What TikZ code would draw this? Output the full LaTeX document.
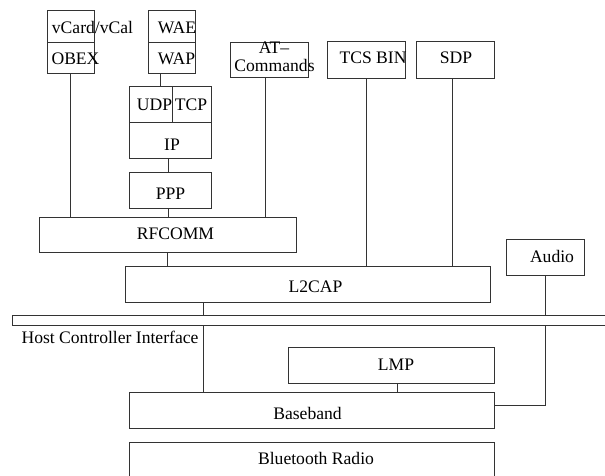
\documentclass[tikz,border=0pt]{standalone}
\usepackage{fontspec}
\setmainfont{Liberation Serif}
\begin{document}
\begin{tikzpicture}[x=1pt,y=-1pt,
  box/.style={draw=black!80, line width=0.9pt, inner sep=0pt},
  conn/.style={draw=black!80, line width=0.9pt},
  lbl/.style={anchor=base, inner sep=0pt, font=\fontsize{17.6}{18}\selectfont}]
\useasboundingbox (0,0) rectangle (605,476);
\clip (0,0) rectangle (605,476);
% boxes
\node[box,minimum width=47pt,minimum height=32pt] (vcard) at (70.5,26) {};
\node[box,minimum width=47pt,minimum height=31pt] (obex) at (70.5,57.5) {};
\node[box,minimum width=47pt,minimum height=32pt] (wae) at (171.5,26) {};
\node[box,minimum width=47pt,minimum height=31pt] (wap) at (171.5,57.5) {};
\node[box,minimum width=43pt,minimum height=36pt] (udp) at (150.5,104) {};
\node[box,minimum width=39pt,minimum height=36pt] (tcp) at (191.5,104) {};
\node[box,minimum width=82pt,minimum height=36pt] (ip) at (170,140) {};
\node[box,minimum width=78pt,minimum height=35pt] (at) at (269,59.5) {};
\node[box,minimum width=78pt,minimum height=37pt] (tcs) at (366,59.5) {};
\node[box,minimum width=78pt,minimum height=37pt] (sdp) at (455,59.5) {};
\node[box,minimum width=82pt,minimum height=36pt] (ppp) at (170,190) {};
\node[box,minimum width=257pt,minimum height=35pt] (rfcomm) at (167.5,234.5) {};
\node[box,minimum width=365pt,minimum height=36pt] (l2cap) at (307.5,284) {};
\node[box,minimum width=78pt,minimum height=36pt] (audio) at (545,257) {};
\node[box,minimum width=598pt,minimum height=10pt] (hci) at (311,320) {};
\node[box,minimum width=206pt,minimum height=36pt] (lmp) at (391,365) {};
\node[box,minimum width=365pt,minimum height=36pt] (baseband) at (311.5,410) {};
\node[box,minimum width=365pt,minimum height=40pt] (radio) at (311.5,462) {};
% labels
\node[lbl] (tvcard) at (92.5,34) {vCard/vCal};
\node[lbl] (tobex) at (75.5,65) {OBEX};
\node[lbl] (twae) at (177,34) {WAE};
\node[lbl] (twap) at (176.5,65) {WAP};
\node[lbl] (tudp) at (154.5,110.5) {UDP};
\node[lbl] (ttcp) at (191,110.5) {TCP};
\node[lbl] (tip) at (172,150) {IP};
\node[lbl] (tat1) at (274,54) {AT–};
\node[lbl] (tat2) at (274.5,72) {Commands};
\node[lbl] (ttcs) at (373,64) {TCS BIN};
\node[lbl] (tsdp) at (456,64) {SDP};
\node[lbl] (tppp) at (170.5,199) {PPP};
\node[lbl] (trfcomm) at (175.5,239) {RFCOMM};
\node[lbl] (tl2cap) at (315.5,292.5) {L2CAP};
\node[lbl] (taudio) at (552,262) {Audio};
\node[lbl] (thci) at (110,343) {Host Controller Interface};
\node[lbl] (tlmp) at (396,370.5) {LMP};
\node[lbl] (tbaseband) at (307.5,419) {Baseband};
\node[lbl] (tradio) at (316,464) {Bluetooth Radio};
% connectors
\draw[conn] (obex.south) -- (obex.south |- rfcomm.north);
\draw[conn] ([xshift=-11.5pt]wap.south) -- ([xshift=-11.5pt]wap.south |- udp.north);
\draw[conn] ([xshift=-2pt]ip.south) -- ([xshift=-2pt]ppp.north);
\draw[conn] ([xshift=-2pt]ppp.south) -- ([xshift=-2pt]ppp.south |- rfcomm.north);
\draw[conn] (rfcomm.south) -- (rfcomm.south |- l2cap.north);
\draw[conn] ([xshift=-4pt]at.south) -- ([xshift=-4pt]at.south |- rfcomm.north);
\draw[conn] (tcs.south) -- (tcs.south |- l2cap.north);
\draw[conn] ([xshift=-3pt]sdp.south) -- ([xshift=-3pt]sdp.south |- l2cap.north);
\draw[conn] ([xshift=-104.5pt]l2cap.south) -- ([xshift=-104.5pt]l2cap.south |- hci.north);
\draw[conn] ([xshift=-104.5pt]l2cap.south |- hci.south) -- ([xshift=-104.5pt]l2cap.south |- baseband.north);
\draw[conn] (audio.south) -- (audio.south |- hci.north);
\draw[conn] (audio.south |- hci.south) -- ([yshift=5pt]audio.south |- baseband.east) -- ([yshift=5pt]baseband.east);
\draw[conn] ([xshift=6pt]lmp.south) -- ([xshift=6pt]lmp.south |- baseband.north);
\end{tikzpicture}
\end{document}
